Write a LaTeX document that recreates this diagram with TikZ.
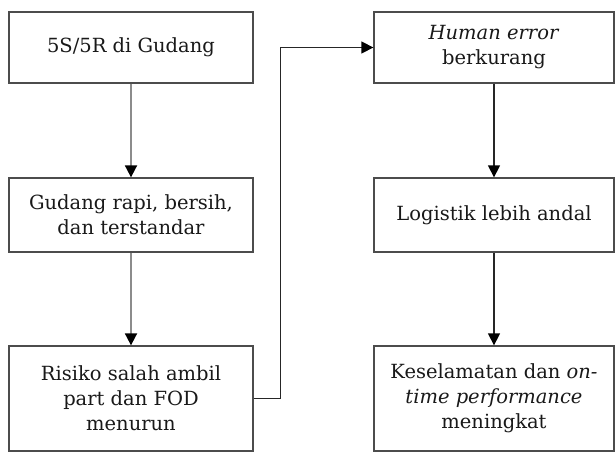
\documentclass[tikz,border=0pt]{standalone}
\usepackage{fontspec}
\setmainfont{DejaVu Serif}
\usetikzlibrary{arrows.meta}
\begin{document}
\begin{tikzpicture}[x=1pt,y=-1pt,
  box/.style={draw=black!70, line width=1.3pt, fill=white, rectangle, align=center,
    inner sep=0pt, text=black!90, font=\fontsize{19.5}{25}\selectfont},
  tip/.style={-{Triangle[length=12pt,width=12pt,fill=black,color=black]}},
  graylink/.style={draw=black!45, line width=1.8pt, tip},
  darklink/.style={draw=black!85, line width=1.3pt, tip}]
\useasboundingbox (0,0) rectangle (615,452);
\node[box, minimum width=244pt, minimum height=71pt] (a1) at (131,47.5) {5S/5R di Gudang};
\node[box, minimum width=244pt, minimum height=74pt] (a2) at (131,215) {Gudang rapi, bersih,\\dan terstandar};
\node[box, minimum width=244pt, minimum height=105pt] (a3) at (131,398.5) {Risiko salah ambil\\part dan FOD\\menurun};
\node[box, minimum width=240pt, minimum height=71pt] (b1) at (494,47.5) {\textit{Human error}\\berkurang};
\node[box, minimum width=240pt, minimum height=74pt] (b2) at (494,215) {Logistik lebih andal};
\node[box, minimum width=240pt, minimum height=105pt] (b3) at (494,398.5) {Keselamatan dan \textit{on-}\\\textit{time performance}\\meningkat};
\draw[graylink] (a1) -- (a2);
\draw[graylink] (a2) -- (a3);
\draw[darklink] (a3.east) -- ++(27,0) |- (b1.west);
\draw[darklink] (b1) -- (b2);
\draw[darklink] (b2) -- (b3);
\end{tikzpicture}
\end{document}
